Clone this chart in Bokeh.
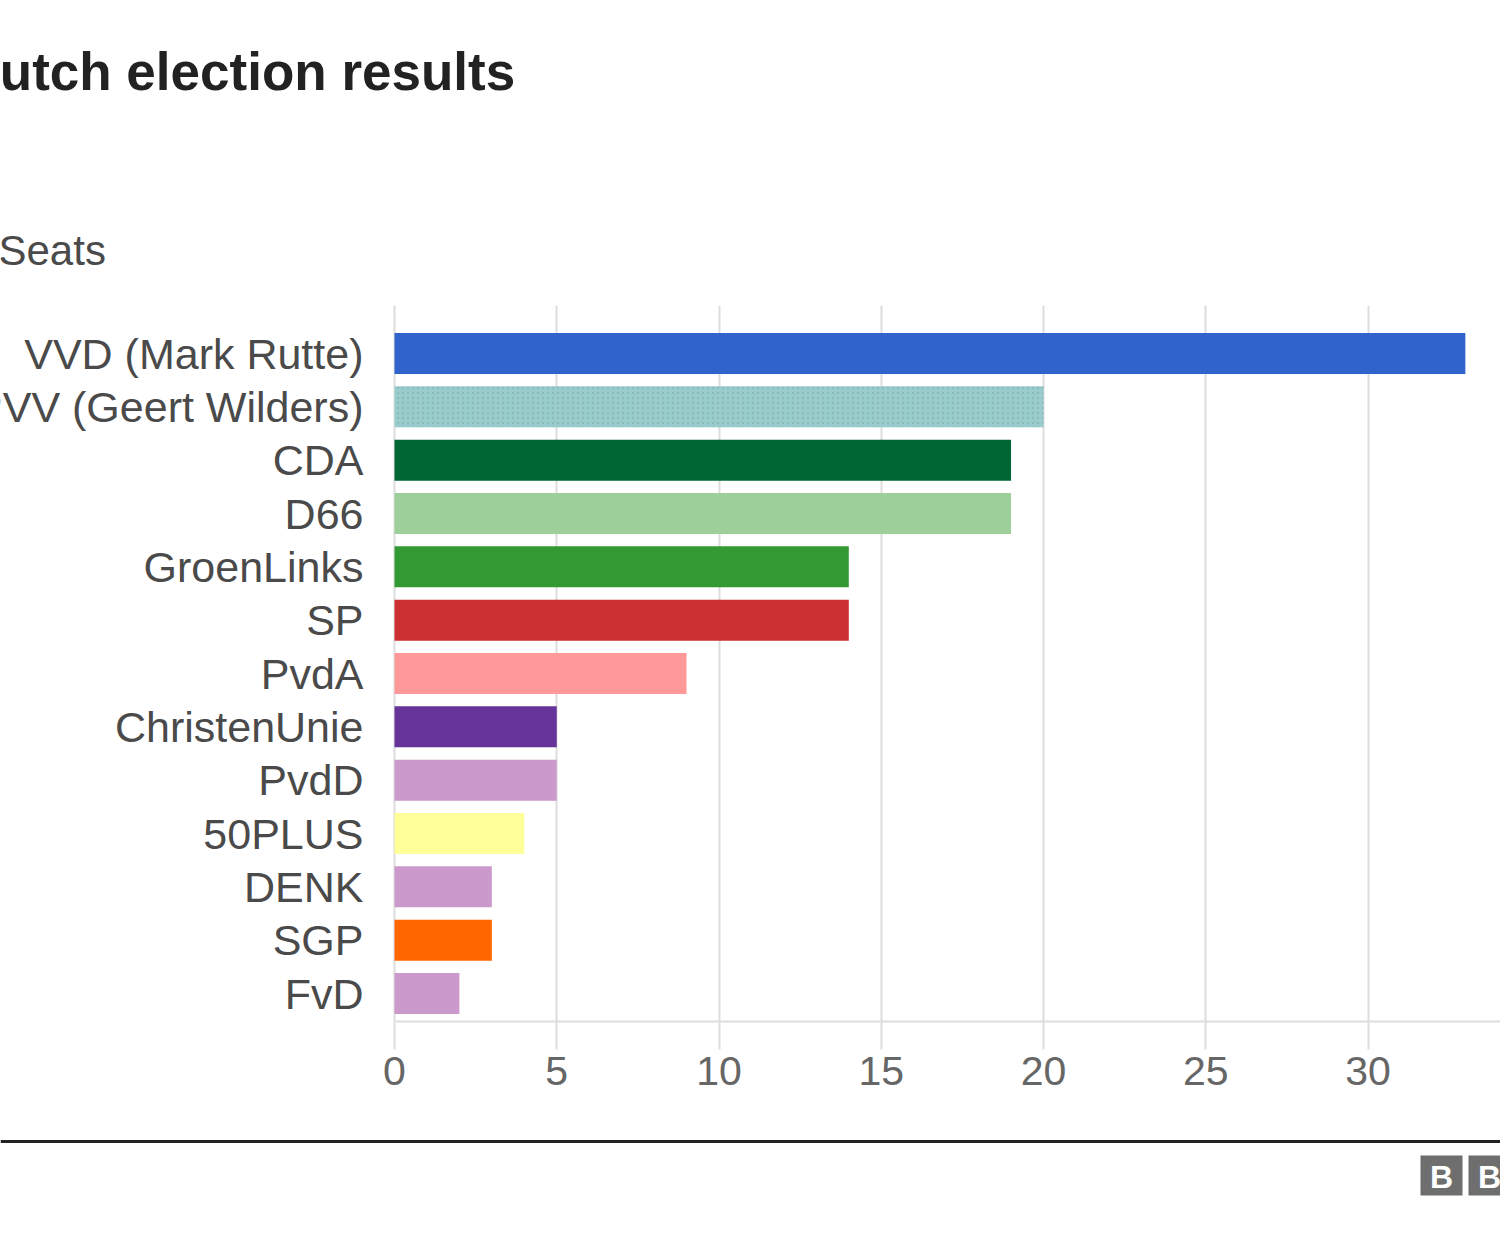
from bokeh.plotting import figure
from bokeh.models import (ColumnDataSource, Range1d, FixedTicker, LabelSet, Label, Span)
from bokeh.layouts import column
from bokeh.core.properties import value
from bokeh.embed import file_html
from bokeh.resources import INLINE

# ---- data ----
parties = ["VVD (Mark Rutte)", "PVV (Geert Wilders)", "CDA", "D66", "GroenLinks", "SP",
           "PvdA", "ChristenUnie", "PvdD", "50PLUS", "DENK", "SGP", "FvD"]
seats = [33, 20, 19, 19, 14, 14, 9, 5, 5, 4, 3, 3, 2]
colors = ["#3064cc", "#99cccc", "#006633", "#9ecf9a", "#339933", "#cc3033",
          "#ff9999", "#663399", "#cc99cc", "#ffff99", "#cc99cc", "#ff6600", "#cc99cc"]
hatches = ["", ".", "", "", "", "", "", "", "", "", "", "", ""]
x_ticks = [0, 5, 10, 15, 20, 25, 30]
title_text = "Dutch election results"
subtitle_text = "Seats"

FONT = "Liberation Sans"
W = 1500
HEAD_H = 305
MAIN_H = 800
FOOT_H = 145
PX_PER_SEAT = 32.45
ZERO_X = 394

def bare(fig):
    fig.axis.visible = False
    fig.grid.grid_line_color = None
    fig.outline_line_color = None
    fig.min_border_left = fig.min_border_right = 0
    fig.min_border_top = fig.min_border_bottom = 0

# ---- header (title + unit) ----
h = figure(width=W, height=HEAD_H, output_backend="svg", toolbar_location=None,
           x_range=Range1d(0, W), y_range=Range1d(HEAD_H, 0))
bare(h)
h.add_layout(Label(x=-39, y=71, text=title_text, text_font=FONT, text_font_size="53px",
                   text_font_style="bold", text_color="#222222", text_baseline="alphabetic"))
h.add_layout(Label(x=-2, y=250, text=subtitle_text, text_font=FONT, text_font_size="42px",
                   text_color="#4a4a4a", text_baseline="alphabetic"))

# ---- main chart ----
src = ColumnDataSource(dict(
    party=parties,
    seats=seats,
    pos=list(range(len(parties))),
    zero=[0] * len(parties),
    color=colors,
    hatch=hatches,
))

x_start = -ZERO_X / PX_PER_SEAT
x_end = (W - ZERO_X) / PX_PER_SEAT
p = figure(width=W, height=MAIN_H, output_backend="svg", toolbar_location=None,
           x_range=Range1d(x_start, x_end), y_range=Range1d(12.525, -0.9))
p.outline_line_color = None
p.min_border_left = 0
p.min_border_right = 0
p.min_border_top = 0
p.min_border_bottom = 84

p.hbar(y="pos", right="seats", left="zero", height=0.77, source=src,
       fill_color="color", line_color=None,
       hatch_pattern="hatch", hatch_color="#7fa9a9", hatch_alpha=0.5, hatch_scale=5, hatch_weight=1)

p.yaxis.visible = False
p.ygrid.grid_line_color = None
p.xgrid.grid_line_color = "#dddddd"
p.xgrid.grid_line_width = 2
p.xaxis.ticker = FixedTicker(ticks=x_ticks)
p.xaxis.bounds = (0, x_end)
p.xaxis.axis_line_color = "#dddddd"
p.xaxis.axis_line_width = 2
p.xaxis.major_tick_line_color = "#dddddd"
p.xaxis.major_tick_line_width = 2
p.xaxis.major_tick_out = 28
p.xaxis.major_tick_in = 0
p.xaxis.minor_tick_line_color = None
p.xaxis.major_label_standoff = 7
p.xaxis.major_label_text_font = FONT
p.xaxis.major_label_text_font_size = "41px"
p.xaxis.major_label_text_color = "#666666"

labels = LabelSet(x="zero", y="pos", x_offset=-31, text="party", source=src,
                  text_align="right", text_baseline="middle",
                  text_font=value(FONT), text_font_size="43px", text_color="#4a4a4a")
p.add_layout(labels)

# ---- footer ----
f = figure(width=W, height=FOOT_H, output_backend="svg", toolbar_location=None,
           x_range=Range1d(0, W), y_range=Range1d(FOOT_H, 0))
bare(f)
f.add_layout(Span(location=36, dimension="width", line_color="#222222", line_width=3))
box_left = [1420, 1468]
f.quad(left=box_left, right=[b + 42 for b in box_left], top=[50, 50], bottom=[90, 90],
       fill_color="#6e6e6e", line_color=None)
f.text(x=[b + 21 for b in box_left], y=[71, 71], text=["B", "B"],
       text_align="center", text_baseline="middle", text_font=value(FONT),
       text_font_size="32px", text_font_style="bold", text_color="white")

layout = column(h, p, f, spacing=0)
open("out.html", "w").write(file_html(layout, INLINE))
